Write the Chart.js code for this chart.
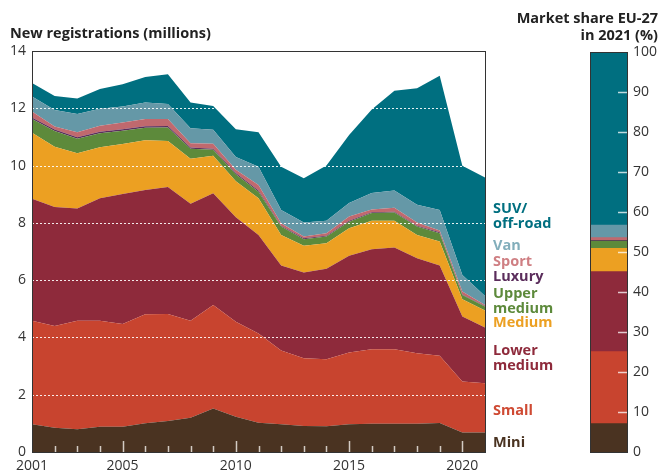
<!DOCTYPE html>
<html>
<head>
<meta charset="utf-8">
<script src="https://cdn.jsdelivr.net/npm/chart.js@4.4.1/dist/chart.umd.min.js"></script>
<style>
  body { margin: 0; background: #fff; font-family: 'Open Sans', sans-serif; }
  #wrap { position: relative; width: 664px; height: 473px; overflow: hidden; }
  #main { position: absolute; left: 0; top: 0; }
  #share { position: absolute; left: 560px; top: 0; }
  .title { position: absolute; font-weight: bold; font-size: 14.5px; color: #222; line-height: 17px; }
</style>
</head>
<body>
<div id="wrap">
  <canvas id="main" width="590" height="473"></canvas>
  <canvas id="share" width="104" height="473"></canvas>
  <div class="title" style="left:10px; top:24px;">New registrations (millions)</div>
  <div class="title" style="right:6px; top:9px; text-align:right;">Market share EU-27<br>in 2021 (%)</div>
</div>
<script>
// New car registrations EU-27 by segment, millions
const years = ['2001','2002','2003','2004','2005','2006','2007','2008','2009','2010','2011',
  '2012','2013','2014','2015','2016','2017','2018','2019','2020','2021'];
const xTickLabels = ['2001', '2005', '2010', '2015', '2020'];
const yTicks = [0, 2, 4, 6, 8, 10, 12, 14];

const mini        = [0.97,0.85,0.79,0.88,0.88,1.00,1.08,1.20,1.52,1.23,1.02,0.97,0.91,0.90,0.97,0.99,0.99,0.99,1.01,0.68,0.68];
const small       = [3.61,3.55,3.79,3.70,3.59,3.81,3.74,3.38,3.61,3.32,3.12,2.57,2.36,2.34,2.50,2.60,2.60,2.46,2.35,1.78,1.72];
const lowerMedium = [4.26,4.15,3.92,4.28,4.54,4.34,4.43,4.09,3.90,3.65,3.44,2.97,3.00,3.16,3.38,3.49,3.55,3.31,3.15,2.27,1.95];
const medium      = [2.31,2.11,1.93,1.78,1.74,1.73,1.61,1.57,1.31,1.25,1.28,1.07,0.93,0.89,0.96,0.99,0.93,0.82,0.84,0.60,0.59];
const upperMedium = [0.48,0.55,0.51,0.49,0.47,0.44,0.47,0.35,0.21,0.25,0.23,0.29,0.23,0.23,0.23,0.27,0.29,0.29,0.29,0.15,0.14];
const luxury      = [0.05,0.05,0.05,0.05,0.05,0.05,0.05,0.04,0.04,0.04,0.04,0.03,0.03,0.03,0.03,0.03,0.03,0.03,0.03,0.02,0.02];
const sport       = [0.21,0.10,0.17,0.21,0.23,0.26,0.25,0.15,0.17,0.11,0.19,0.09,0.06,0.09,0.15,0.10,0.14,0.11,0.06,0.10,0.03];
const van         = [0.52,0.58,0.64,0.59,0.56,0.57,0.52,0.52,0.49,0.45,0.64,0.46,0.49,0.43,0.47,0.57,0.60,0.62,0.72,0.58,0.32];
const suv         = [0.47,0.49,0.54,0.69,0.78,0.89,1.04,0.90,0.83,0.97,1.20,1.51,1.55,1.93,2.38,2.92,3.48,4.07,4.69,3.81,4.13];

// market share 2021, %
const shareLabels = ['Mini','Small','Lower medium','Medium','Upper medium','Luxury','Sport','Van','SUV/off-road'];
const share2021   = [7.1, 18.0, 20.0, 5.8, 1.8, 0.2, 0.7, 3.1, 43.3];
const shareTicks  = [0, 10, 20, 30, 40, 50, 60, 70, 80, 90, 100];

const seriesData = [mini, small, lowerMedium, medium, upperMedium, luxury, sport, van, suv];
const fillColors = ['#4a3321','#c8442f','#8e2a3b','#eca022','#5d8a3b','#5b2d5c','#c0696e','#6598a7','#006f80'];
const textColors = ['#4a3321','#cf4a33','#8e2a3b','#eca022','#5d8a3b','#5b2d5c','#cf7f83','#82aebb','#006f80'];

// label text on the right of the area chart (y of first line)
const labelLines = [['Mini'],['Small'],['Lower','medium'],['Medium'],['Upper','medium'],['Luxury'],['Sport'],['Van'],['SUV/','off-road']];
const labelY = [443, 411, 351, 323, 294, 277, 262, 246, 209];

const font = "'Open Sans', sans-serif";

const mainDecor = {
  id: 'mainDecor',
  afterDatasetsDraw(chart) {
    const ctx = chart.ctx;
    const area = chart.chartArea;
    const x = chart.scales.x;
    const y = chart.scales.y;
    ctx.save();
    // white dotted grid over the areas
    ctx.strokeStyle = 'rgba(255,255,255,0.9)';
    ctx.lineWidth = 1;
    ctx.setLineDash([2, 2]);
    yTicks.forEach(t => {
      if (t === 0 || t === 14) return;
      const py = Math.round(y.getPixelForValue(t)) + 0.5;
      ctx.beginPath();
      ctx.moveTo(area.left, py);
      ctx.lineTo(area.right, py);
      ctx.stroke();
    });
    ctx.setLineDash([]);
    // year tick marks inside the plot
    ctx.strokeStyle = 'rgba(235,230,225,0.85)';
    ctx.lineWidth = 1.5;
    years.forEach((yr, i) => {
      if (i === 0 || i === years.length - 1) return;
      const px = Math.round(x.getPixelForValue(i)) + 0.5;
      const len = xTickLabels.includes(yr) ? 11 : 6;
      ctx.beginPath();
      ctx.moveTo(px, area.bottom);
      ctx.lineTo(px, area.bottom - len);
      ctx.stroke();
    });
    ctx.restore();
  },
  afterDraw(chart) {
    const ctx = chart.ctx;
    const a = chart.chartArea;
    ctx.save();
    ctx.strokeStyle = '#333';
    ctx.lineWidth = 1;
    ctx.strokeRect(Math.round(a.left) + 0.5, Math.round(a.top) + 0.5,
      Math.round(a.right - a.left), Math.round(a.bottom - a.top));
    ctx.font = 'bold 14.5px ' + font;
    ctx.textBaseline = 'middle';
    ctx.textAlign = 'left';
    labelLines.forEach((lines, i) => {
      ctx.fillStyle = textColors[i];
      lines.forEach((t, j) => ctx.fillText(t, a.right + 8, labelY[i] + j * 14.5));
    });
    ctx.restore();
  }
};

new Chart(document.getElementById('main'), {
  type: 'line',
  data: {
    labels: years,
    datasets: seriesData.map((d, i) => ({
      label: shareLabels[i],
      data: d,
      fill: i === 0 ? 'origin' : '-1',
      backgroundColor: fillColors[i],
      borderColor: fillColors[i],
      borderWidth: 0,
      pointRadius: 0,
      tension: 0
    }))
  },
  options: {
    responsive: false,
    animation: false,
    layout: { padding: { top: 51, right: 105, left: 0, bottom: 0 } },
    plugins: { legend: { display: false }, tooltip: { enabled: false } },
    scales: {
      x: {
        grid: { display: false, drawTicks: false },
        border: { display: false },
        afterFit: s => { s.height = 21; },
        ticks: {
          autoSkip: false, maxRotation: 0, padding: 6,
          color: '#333', font: { family: font, size: 14 },
          callback: (v, i) => xTickLabels.includes(years[i]) ? years[i] : ''
        }
      },
      y: {
        stacked: true,
        min: 0, max: 14,
        afterFit: s => { s.width = 32; },
        grid: { display: false, drawTicks: false },
        border: { display: false },
        afterBuildTicks: s => { s.ticks = yTicks.map(v => ({ value: v })); },
        ticks: { padding: 6, color: '#333', font: { family: font, size: 14 } }
      }
    }
  },
  plugins: [mainDecor]
});

const shareDecor = {
  id: 'shareDecor',
  afterDatasetsDraw(chart) {
    const ctx = chart.ctx;
    const a = chart.chartArea;
    const y = chart.scales.y;
    ctx.save();
    ctx.strokeStyle = 'rgba(255,255,255,0.75)';
    ctx.lineWidth = 1.5;
    shareTicks.forEach(t => {
      if (t === 0 || t === 100) return;
      const py = Math.round(y.getPixelForValue(t)) + 0.5;
      ctx.beginPath();
      ctx.moveTo(a.right - 9, py);
      ctx.lineTo(a.right, py);
      ctx.stroke();
    });
    ctx.strokeStyle = '#333';
    ctx.lineWidth = 1;
    ctx.strokeRect(Math.round(a.left) + 0.5, Math.round(a.top) + 0.5,
      Math.round(a.right - a.left), Math.round(a.bottom - a.top));
    ctx.restore();
  }
};

new Chart(document.getElementById('share'), {
  type: 'bar',
  data: {
    labels: ['2021'],
    datasets: share2021.map((v, i) => ({
      label: shareLabels[i],
      data: [v],
      backgroundColor: fillColors[i],
      borderWidth: 0,
      barPercentage: 1,
      categoryPercentage: 1
    }))
  },
  options: {
    responsive: false,
    animation: false,
    layout: { padding: { top: 52, bottom: 21, left: 30, right: 0 } },
    plugins: { legend: { display: false }, tooltip: { enabled: false } },
    scales: {
      x: { stacked: true, display: false },
      y: {
        stacked: true,
        position: 'right',
        min: 0, max: 100,
        afterFit: s => { s.width = 37; },
        grid: { display: false, drawTicks: false },
        border: { display: false },
        afterBuildTicks: s => { s.ticks = shareTicks.map(v => ({ value: v })); },
        ticks: { padding: 6, color: '#333', font: { family: font, size: 14 } }
      }
    }
  },
  plugins: [shareDecor]
});
</script>
</body>
</html>
